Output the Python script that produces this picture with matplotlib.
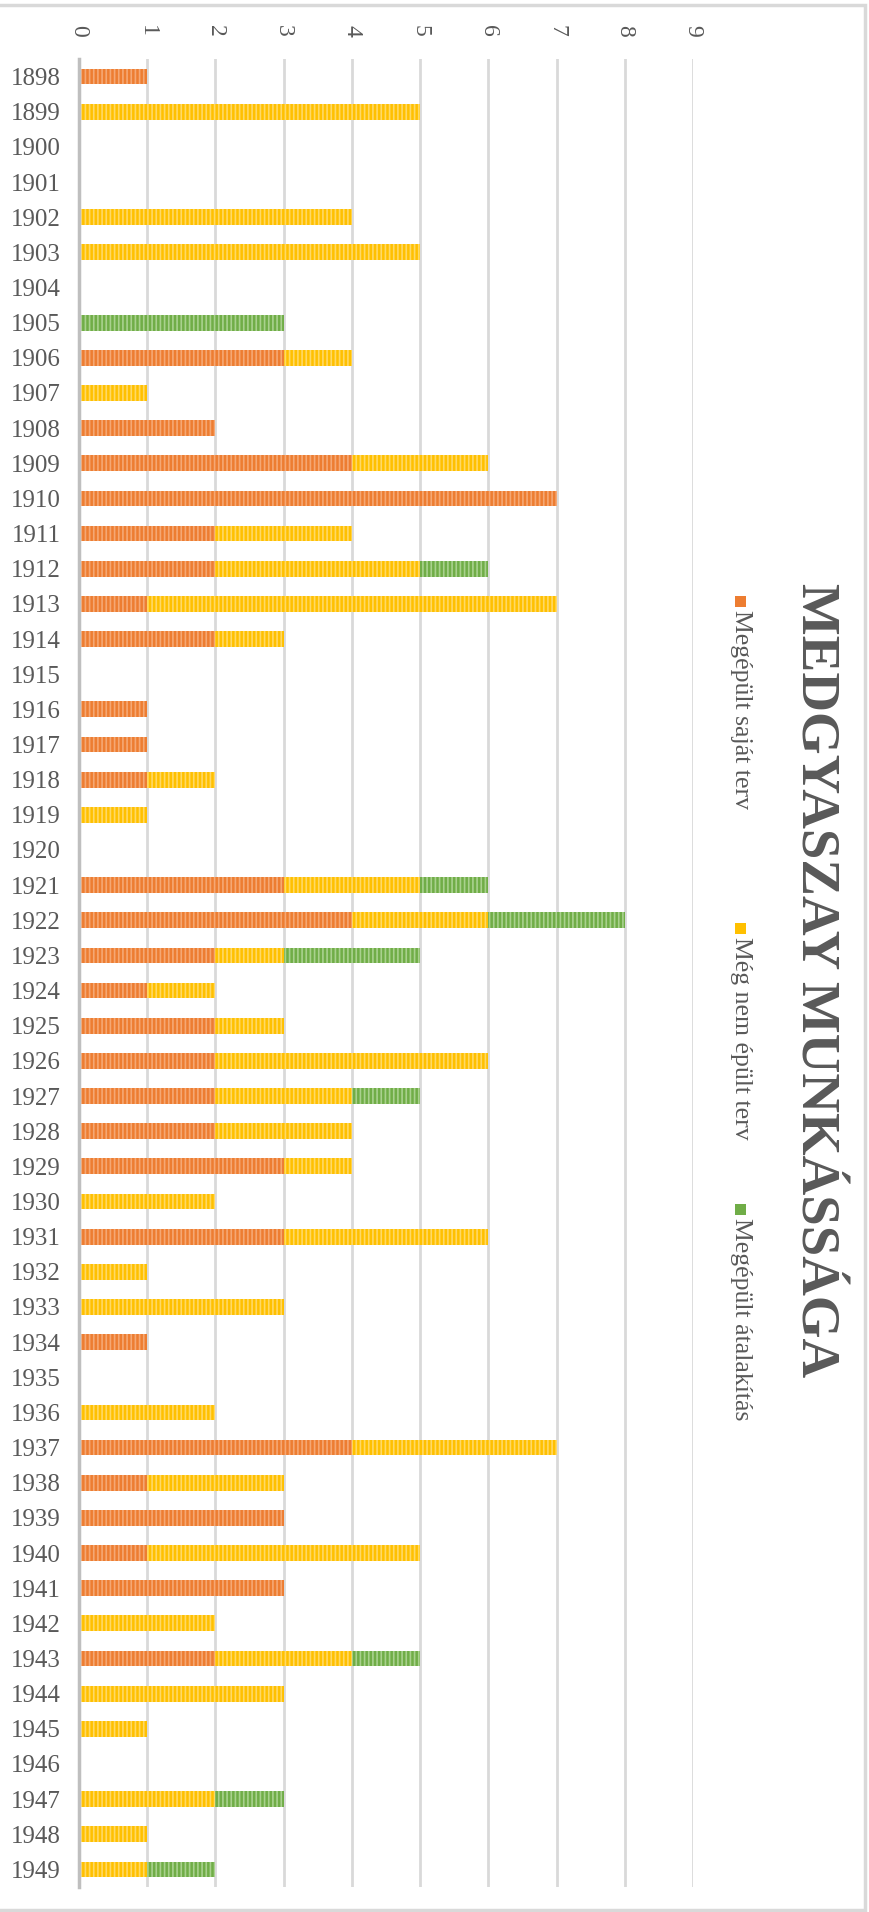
import numpy as np
import matplotlib
matplotlib.use("Agg")
import matplotlib.pyplot as plt
from matplotlib.patches import Rectangle

years = list(range(1898, 1950))
# counts per year for each category
built_own = [1, 0, 0, 0, 0, 0, 0, 0, 3, 0, 2, 4, 7, 2, 2, 1, 2, 0, 1, 1,
             1, 0, 0, 3, 4, 2, 1, 2, 2, 2, 2, 3, 0, 3, 0, 0, 1, 0, 0, 4,
             1, 3, 1, 3, 0, 2, 0, 0, 0, 0, 0, 0]
not_built = [0, 5, 0, 0, 4, 5, 0, 0, 1, 1, 0, 2, 0, 2, 3, 6, 1, 0, 0, 0,
             1, 1, 0, 2, 2, 1, 1, 1, 4, 2, 2, 1, 2, 3, 1, 3, 0, 0, 2, 3,
             2, 0, 4, 0, 2, 2, 3, 1, 0, 2, 1, 1]
rebuilt = [0, 0, 0, 0, 0, 0, 0, 3, 0, 0, 0, 0, 0, 0, 1, 0, 0, 0, 0, 0,
           0, 0, 0, 1, 2, 2, 0, 0, 0, 1, 0, 0, 0, 0, 0, 0, 0, 0, 0, 0,
           0, 0, 0, 0, 0, 1, 0, 0, 0, 1, 0, 1]
series_names = ["Megépült saját terv", "Még nem épült terv", "Megépült átalakítás"]
title = "MEDGYASZAY MUNKÁSSÁGA"

colors = ["#ED7D31", "#FFC000", "#70AD47"]
stripes = ["#F5A874", "#FFD966", "#A9D18E"]
grey = "#595959"

W, H = 869, 1912
plt.rcParams["font.family"] = ["Liberation Serif", "DejaVu Serif"]
plt.rcParams["hatch.linewidth"] = 1.2

fig = plt.figure(figsize=(W / 100, H / 100), dpi=100)
ax = fig.add_axes([79 / W, 1 - 1887 / H, (693 - 79) / W, (1887 - 59) / H])

y = np.arange(len(years))
left = np.zeros(len(years))
for vals, c, s in zip([built_own, not_built, rebuilt], colors, stripes):
    vals = np.array(vals, dtype=float)
    ax.barh(y, vals, left=left, height=0.45, color=c, edgecolor=s,
            hatch="||||", linewidth=0, zorder=3)
    left += vals

ax.set_xlim(0, 9)
ax.set_ylim(len(years) - 0.5, -0.5)
ax.set_yticks(y)
ax.set_yticklabels([str(v) for v in years], fontsize=18, color=grey)
ax.set_xticks(range(10))
ax.xaxis.tick_top()
ax.set_xticklabels([str(v) for v in range(10)], fontsize=17, color=grey,
                   rotation=-90, va="bottom", ha="center")
ax.tick_params(axis="both", length=0)
ax.tick_params(axis="y", pad=13)
ax.tick_params(axis="x", pad=16)
ax.grid(axis="x", color="#D9D9D9", linewidth=2, zorder=0)
for side in ["top", "right", "bottom"]:
    ax.spines[side].set_visible(False)
ax.spines["left"].set_color("#BFBFBF")
ax.spines["left"].set_linewidth(2.5)
ax.spines["left"].set_zorder(4)

# rotated title and legend on the right
fig.text(814 / W, 1 - 980 / H, title, rotation=-90, fontsize=39.5,
         fontweight="bold", color=grey, ha="center", va="center")
legend_y = [596, 923, 1204]
for name, c, ly in zip(series_names, colors, legend_y):
    fig.patches.append(Rectangle((735 / W, 1 - (ly + 11) / H), 11 / W, 11 / H,
                                 transform=fig.transFigure, facecolor=c,
                                 edgecolor="none"))
    fig.text(741 / W, 1 - (ly + 14) / H, name, rotation=-90, fontsize=18.5,
             color=grey, ha="center", va="top")

# light frame around the chart area
fig.patches.append(Rectangle((-0.01, 0.001), 865 / W + 0.01, 1 - 5 / H - 0.001,
                             transform=fig.transFigure, fill=False,
                             edgecolor="#D9D9D9", linewidth=2.5))

fig.savefig("out.png", dpi=100)
